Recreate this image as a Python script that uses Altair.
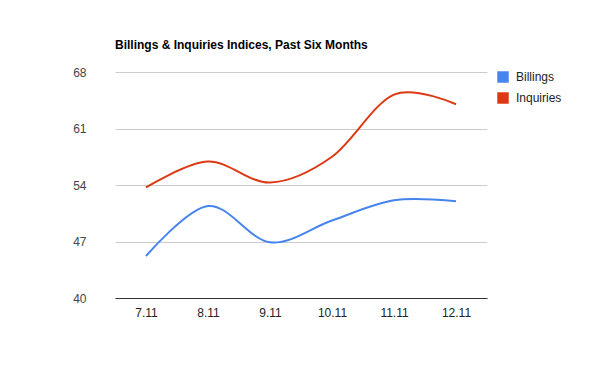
import altair as alt
import pandas as pd

months = ["7.11", "8.11", "9.11", "10.11", "11.11", "12.11"]
billings = [45.2, 51.4, 46.9, 49.6, 52.1, 52.0]
inquiries = [53.7, 56.9, 54.3, 57.5, 65.2, 64.0]
series = ["Billings", "Inquiries"]
colors = ["#4684EE", "#DC3912"]
y_ticks = [40, 47, 54, 61, 68]

rows = []
for m, b, i in zip(months, billings, inquiries):
    rows.append({"month": m, "series": "Billings", "value": b})
    rows.append({"month": m, "series": "Inquiries", "value": i})
df = pd.DataFrame(rows)

chart = alt.Chart(df).mark_line(interpolate="cardinal", strokeWidth=2).encode(
    x=alt.X("month:N", sort=months, scale=alt.Scale(paddingOuter=0.5),
            axis=alt.Axis(title=None, labelAngle=0, ticks=False, grid=False,
                          domainColor="#333333", labelColor="#222222",
                          labelFont="Arial", labelFontSize=12, labelPadding=9)),
    y=alt.Y("value:Q", scale=alt.Scale(domain=[40, 68], nice=False, zero=False),
            axis=alt.Axis(title=None, values=y_ticks, ticks=False, domain=False,
                          gridColor="#CCCCCC", labelColor="#444444",
                          labelFont="Arial", labelFontSize=12, labelPadding=29)),
    color=alt.Color("series:N", scale=alt.Scale(domain=series, range=colors),
                    legend=alt.Legend(title=None, orient="none", legendX=382, legendY=-1,
                                      symbolType="square", symbolSize=30,
                                      symbolStrokeWidth=6, labelFont="Arial",
                                      labelFontSize=12, labelColor="#222222",
                                      labelOffset=7, rowPadding=-12)),
).properties(
    width=372, height=226,
    title=alt.TitleParams("Billings & Inquiries Indices, Past Six Months",
                          anchor="start", frame="group", font="Arial", fontSize=12,
                          fontWeight="bold", color="#000000", offset=14),
    autosize=alt.AutoSizeParams(type="none"),
    padding={"left": 107, "top": 64, "right": 105, "bottom": 65},
).configure_view(stroke=None)

chart.save("out.html", embed_options={"renderer": "svg", "actions": False})
